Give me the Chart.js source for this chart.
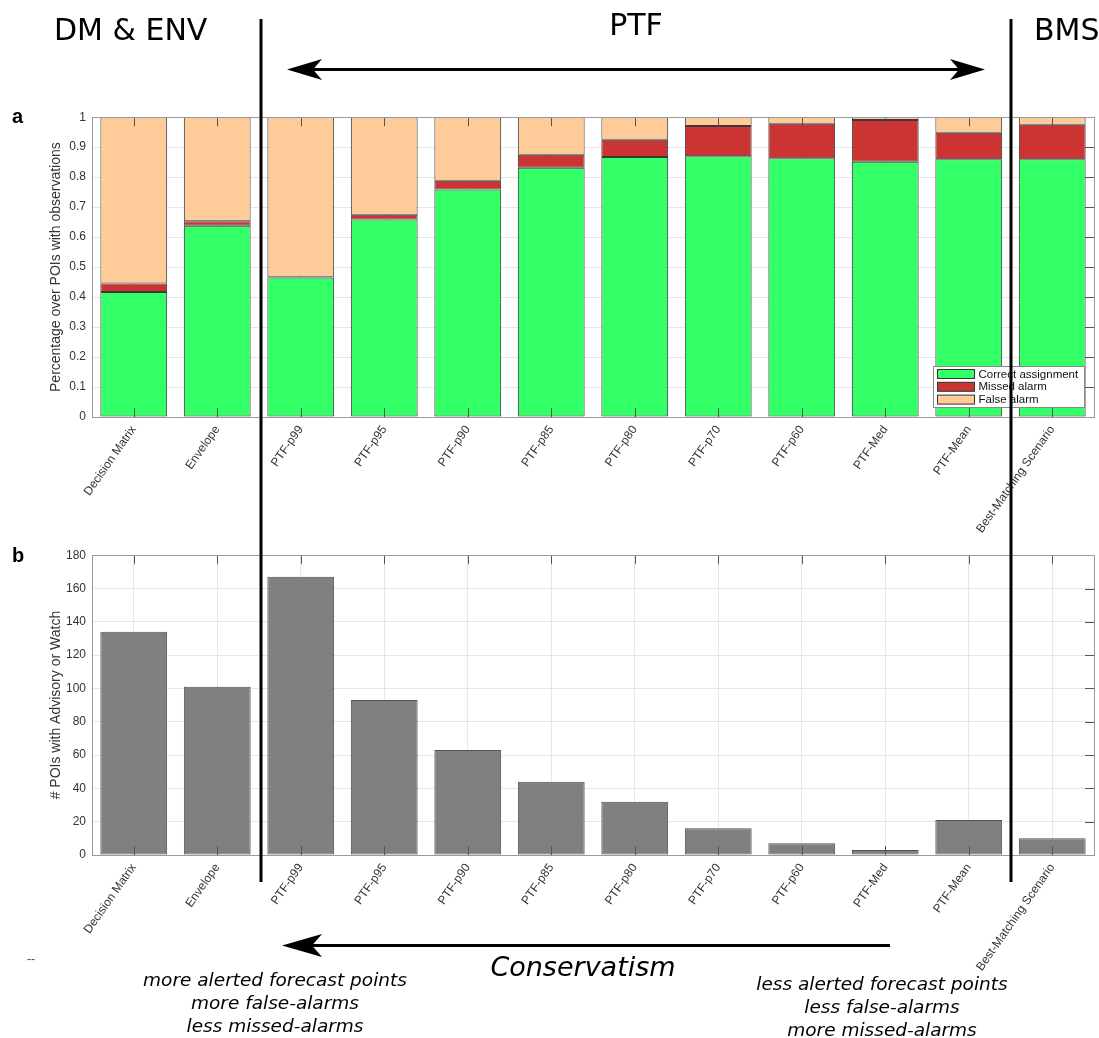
<!DOCTYPE html>
<html>
<head>
<meta charset="utf-8">
<script src="https://cdn.jsdelivr.net/npm/chart.js@4/dist/chart.umd.min.js"></script>
<style>
  html, body { margin:0; padding:0; background:#fff; }
  body { width:1099px; height:1038px; position:relative; overflow:hidden; }
  .cw { position:absolute; left:0; width:1099px; height:443px; }
  #topWrap { top:104px; }
  #botWrap { top:542px; }
  svg#ov { position:absolute; left:0; top:0; width:1099px; height:1038px; pointer-events:none; }
</style>
</head>
<body>
<div id="topWrap" class="cw"><canvas id="top"></canvas></div>
<div id="botWrap" class="cw"><canvas id="bot"></canvas></div>
<svg id="ov" viewBox="0 0 1099 1038" xmlns="http://www.w3.org/2000/svg">
  <g font-family="DejaVu Sans, sans-serif" fill="#000">
    <text x="54" y="40" font-size="30">DM &amp; ENV</text>
    <text x="636" y="35" font-size="30" text-anchor="middle">PTF</text>
    <text x="1034" y="40" font-size="30">BMS</text>
    <text x="583" y="976" font-size="27" font-style="italic" text-anchor="middle">Conservatism</text>
    <g font-size="18.5" font-style="italic" text-anchor="middle">
      <text x="275" y="986">more alerted forecast points</text>
      <text x="275" y="1009">more false-alarms</text>
      <text x="275" y="1032">less missed-alarms</text>
      <text x="882" y="990">less alerted forecast points</text>
      <text x="882" y="1013">less false-alarms</text>
      <text x="882" y="1036">more missed-alarms</text>
    </g>
  </g>
  <g font-family="Liberation Sans, Arial, sans-serif" font-weight="bold" fill="#000" font-size="20">
    <text x="12" y="123">a</text>
    <text x="12" y="562">b</text>
  </g>
  <text x="27" y="963" font-family="Liberation Sans, Arial, sans-serif" font-size="12" fill="#444">--</text>
  <line x1="261" y1="19" x2="261" y2="882" stroke="#000" stroke-width="3"/>
  <line x1="1011" y1="19" x2="1011" y2="882" stroke="#000" stroke-width="3"/>
  <line x1="305" y1="69.5" x2="967" y2="69.5" stroke="#000" stroke-width="3"/>
  <polygon points="287,69.5 322,59 313,69.5 322,80" fill="#000"/>
  <polygon points="985,69.5 950,59 959,69.5 950,80" fill="#000"/>
  <line x1="305" y1="945.5" x2="890" y2="945.5" stroke="#000" stroke-width="3"/>
  <polygon points="282,945.5 322,934 312,945.5 322,957" fill="#000"/>
</svg>
<script>
// ---------- data ----------
const categories = ["Decision Matrix","Envelope","PTF-p99","PTF-p95","PTF-p90","PTF-p85","PTF-p80","PTF-p70","PTF-p60","PTF-Med","PTF-Mean","Best-Matching Scenario"];
const correctAssignment = [0.417,0.638,0.465,0.659,0.759,0.831,0.867,0.870,0.863,0.851,0.860,0.860];
const missedAlarm      = [0.028,0.015,0.003,0.016,0.029,0.044,0.058,0.101,0.115,0.140,0.088,0.115];
const falseAlarm       = [0.555,0.347,0.532,0.325,0.212,0.125,0.075,0.029,0.022,0.009,0.052,0.025];
const poisAlerted      = [134,101,167,93,63,44,32,16,7,3,21,10];
const topTicks = {min:0, max:1, step:0.1};
const botTicks = {min:0, max:180, step:20};
const seriesNames = ["Correct assignment","Missed alarm","False alarm"];
const seriesColors = ["#33ff66","#cc3333","#ffcc99"];

const FONT = "'Liberation Sans', Arial, Helvetica, sans-serif";
Chart.defaults.font.family = FONT;
Chart.defaults.color = "#333";
Chart.defaults.animation = false;

// frame + inner ticks (MATLAB-like box) + inset legend
const framePlugin = {
  id: 'frame',
  afterDatasetsDraw(chart, args, opts) {
    const {ctx, chartArea:a, scales} = chart;
    ctx.save();
    ctx.strokeStyle = '#555';
    ctx.lineWidth = 1;
    const xs = scales.x, ys = scales.y;
    ctx.beginPath();
    xs.ticks.forEach((t,i)=>{
      const px = Math.round(xs.getPixelForTick(i)) + 0.5;
      ctx.moveTo(px, a.bottom); ctx.lineTo(px, a.bottom - 9);
      ctx.moveTo(px, a.top); ctx.lineTo(px, a.top + 9);
    });
    ys.ticks.forEach((t,i)=>{
      const py = Math.round(ys.getPixelForTick(i)) + 0.5;
      ctx.moveTo(a.right, py); ctx.lineTo(a.right - 9, py);
    });
    ctx.stroke();
    ctx.strokeStyle = '#9a9a9a';
    ctx.strokeRect(Math.round(a.left)+0.5, Math.round(a.top)+0.5, Math.round(a.right-a.left), Math.round(a.bottom-a.top));
    if (opts && opts.legend) {
      const bw = 151, bh = 41;
      const bx = Math.round(a.right) - 10 - bw + 0.5, by = Math.round(a.bottom) - 10 - bh + 0.5;
      ctx.fillStyle = '#fff';
      ctx.fillRect(bx, by, bw, bh);
      ctx.strokeStyle = '#888';
      ctx.strokeRect(bx, by, bw, bh);
      ctx.font = "11.5px " + FONT;
      ctx.textBaseline = 'middle';
      chart.data.datasets.forEach((ds,i)=>{
        const cy = by + 7.5 + i*12.8;
        ctx.fillStyle = ds.backgroundColor;
        ctx.fillRect(bx+4, cy-4.5, 37, 9);
        ctx.strokeStyle = '#333';
        ctx.strokeRect(bx+4, cy-4.5, 37, 9);
        ctx.fillStyle = '#111';
        ctx.fillText(ds.label, bx+45, cy+0.5);
      });
    }
    ctx.restore();
  }
};

function makeScales(tk, title) {
  return {
    x: {
      stacked: true,
      grid: { color:'#e6e6e6', offset:false, drawTicks:false },
      border: { display:false },
      ticks: { autoSkip:false, minRotation:55, maxRotation:55, padding:6, font:{size:12}, color:'#333' },
      afterFit(s){ s.height = 130; }
    },
    y: {
      stacked: true,
      min: tk.min, max: tk.max,
      grid: { color:'#e6e6e6', drawTicks:false },
      border: { display:false },
      ticks: { stepSize: tk.step, padding:6, font:{size:12}, color:'#333',
               callback: v => String(+(+v).toFixed(2)) },
      title: { display:true, text:title, font:{size:14}, color:'#333', padding:{top:48, bottom:0} },
      afterFit(s){ s.width = 92; }
    }
  };
}

new Chart(document.getElementById('top'), {
  type:'bar',
  data:{
    labels: categories,
    datasets:[
      {label:seriesNames[0], data:correctAssignment, backgroundColor:seriesColors[0]},
      {label:seriesNames[1], data:missedAlarm, backgroundColor:seriesColors[1]},
      {label:seriesNames[2], data:falseAlarm, backgroundColor:seriesColors[2]}
    ].map(d=>Object.assign(d,{borderColor:'#3a3a3a', borderWidth:1, borderSkipped:false, barPercentage:0.8, categoryPercentage:1}))
  },
  options:{
    responsive:true, maintainAspectRatio:false,
    layout:{ padding:{top:7, right:5, left:0, bottom:0} },
    plugins:{ legend:{display:false}, tooltip:{enabled:false}, frame:{legend:true} },
    scales: makeScales(topTicks, 'Percentage over POIs with observations')
  },
  plugins:[framePlugin]
});

new Chart(document.getElementById('bot'), {
  type:'bar',
  data:{
    labels: categories,
    datasets:[{label:'# POIs with Advisory or Watch', data:poisAlerted, backgroundColor:'#808080', borderColor:'#505050', borderWidth:1, borderSkipped:false, barPercentage:0.8, categoryPercentage:1}]
  },
  options:{
    responsive:true, maintainAspectRatio:false,
    layout:{ padding:{top:7, right:5, left:0, bottom:0} },
    plugins:{ legend:{display:false}, tooltip:{enabled:false}, frame:{legend:false} },
    scales: makeScales(botTicks, '# POIs with Advisory or Watch')
  },
  plugins:[framePlugin]
});
</script>
</body>
</html>
